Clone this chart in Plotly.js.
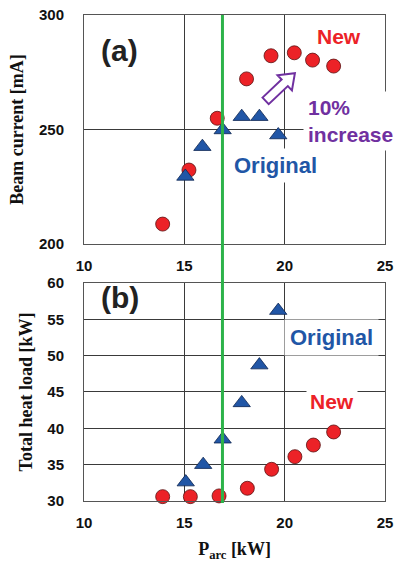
<!DOCTYPE html>
<html><head><meta charset="utf-8">
<script src="https://cdn.plot.ly/plotly-3.0.1.min.js"></script>
<style>html,body{margin:0;padding:0;background:#fff}#chart{width:398px;height:562px}</style>
</head><body><div id="chart"></div>
<script>
// Panel (a): beam current [mA]
const newParcA = [13.92, 15.23, 16.64, 18.10, 19.32, 20.48, 21.39, 22.44];
const newBeam = [208.7, 232.3, 254.9, 272.1, 282.2, 283.5, 280.3, 277.7];
const origParcA = [15.05, 15.90, 16.91, 17.86, 18.74, 19.68];
const origBeam = [229.5, 242.5, 249.8, 255.6, 255.6, 247.6];
// Panel (b): total heat load [kW]
const newParcB = [13.92, 15.30, 16.73, 18.14, 19.35, 20.51, 21.43, 22.44];
const newHeat = [30.6, 30.6, 30.7, 31.75, 34.36, 36.1, 37.7, 39.5];
const origParcB = [15.07, 15.94, 16.91, 17.86, 18.74, 19.68];
const origHeat = [32.6, 35.0, 38.5, 43.5, 48.7, 56.2];
const xTicks = [10, 15, 20, 25];
const refParc = 16.9;

const RED = '#ec2227', BLUE = '#2156a6', PURPLE = '#7030a0', GREEN = '#2db34a';
const circ = {symbol:'circle', size:14, color:RED, line:{color:'#5a1010', width:0.8}};
const tri = {symbol:'triangle-up', size:15, color:BLUE, line:{color:'#0d2550', width:0.8}};

const traces = [
  {x:newParcA, y:newBeam, xaxis:'x', yaxis:'y', mode:'markers', marker:circ, cliponaxis:false},
  {x:origParcA, y:origBeam, xaxis:'x', yaxis:'y', mode:'markers', marker:tri, cliponaxis:false},
  {x:newParcB, y:newHeat, xaxis:'x2', yaxis:'y2', mode:'markers', marker:circ, cliponaxis:false},
  {x:origParcB, y:origHeat, xaxis:'x2', yaxis:'y2', mode:'markers', marker:tri, cliponaxis:false}
];

const tickFont = {family:'"Liberation Sans", Arial, sans-serif', size:15, color:'#111'};
const titleFont = {family:'"Liberation Serif", "Times New Roman", serif', size:18, color:'#111'};
const W = 398, H = 562, M = {l:84, r:13, t:15, b:61, pad:0};
const domA = [0.5288, 1], domB = [0, 0.4486];

function xax(anchor, title){
  const a = {anchor:anchor, range:[10,25], tickvals:xTicks, ticktext:xTicks.map(v=>'<b>'+v+'</b>'),
    showgrid:true, gridcolor:'#3a3a3a', gridwidth:1, zeroline:false,
    showline:true, mirror:true, linecolor:'#555', linewidth:1, ticks:'', ticklabelstandoff:8,
    tickfont:tickFont, fixedrange:true};
  if (title) a.title = title;
  return a;
}
function yax(anchor, dom, range, dtick, title){
  return {anchor:anchor, domain:dom, range:range, dtick:dtick, tick0:range[0],
    showgrid:true, gridcolor:'#3a3a3a', gridwidth:1, zeroline:false,
    showline:true, mirror:true, linecolor:'#555', linewidth:1, ticks:'', ticklabelstandoff:16,
    tickfont:tickFont, tickprefix:'<b>', ticksuffix:'</b>', title:title, fixedrange:true};
}

// hollow block arrow (annotation), geometry in pixels converted to data units of panel (a)
const pw = W - M.l - M.r, ph = (H - M.t - M.b) * (domA[1]-domA[0]);
const pxX = pw/15, pxY = ph/100;
const tail = [19.05, 262.5], tip = [20.51, 274.6];
function arrowPath(){
  const dx = (tip[0]-tail[0])*pxX, dy = (tip[1]-tail[1])*pxY;
  const L = Math.hypot(dx,dy), ux = dx/L, uy = dy/L, nx = -uy, ny = ux;
  const w1 = 4.5, w2 = 10.5, h = 14;
  const pts = [];
  const P = (ox,oy)=>pts.push([tail[0]+ox/pxX, tail[1]+oy/pxY]);
  const nk = L - h;
  P(nx*w1, ny*w1);
  P(ux*nk + nx*w1, uy*nk + ny*w1);
  P(ux*nk + nx*w2, uy*nk + ny*w2);
  P(dx, dy);
  P(ux*nk - nx*w2, uy*nk - ny*w2);
  P(ux*nk - nx*w1, uy*nk - ny*w1);
  P(-nx*w1, -ny*w1);
  return 'M' + pts.map(p=>p[0].toFixed(4)+','+p[1].toFixed(4)).join(' L') + ' Z';
}

const annFont = (c,s)=>({family:'"Liberation Sans", Arial, sans-serif', size:s, color:c});
const layout = {
  width:W, height:H, margin:M, showlegend:false,
  paper_bgcolor:'#fff', plot_bgcolor:'#fff',
  xaxis: xax('y', null),
  yaxis: yax('x', domA, [200,300], 50, {text:'<b>Beam current [mA]</b>', font:titleFont, standoff:10}),
  xaxis2: xax('y2', {text:'<b>P<sub>arc</sub> [kW]</b>', font:titleFont, standoff:12}),
  yaxis2: yax('x2', domB, [30,60], 5, {text:'<b>Total heat load [kW]</b>', font:titleFont, standoff:10}),
  shapes:[
    {type:'line', xref:'x', yref:'paper', x0:refParc, x1:refParc, y0:-0.004, y1:1, line:{color:GREEN, width:3}, layer:'above'},
    {type:'path', xref:'x', yref:'y', path:arrowPath(), fillcolor:'#fff', line:{color:PURPLE, width:2}, layer:'above'}
  ],
  annotations:[
    {xref:'x', yref:'y', x:10.75, y:284.7, xanchor:'left', text:'<b>(a)</b>', showarrow:false, font:annFont('#222',30)},
    {xref:'x2', yref:'y2', x:10.75, y:58.0, xanchor:'left', text:'<b>(b)</b>', showarrow:false, font:annFont('#222',30)},
    {xref:'x', yref:'y', x:22.73, y:290.4, text:'<b>New</b>', showarrow:false, font:annFont(RED,21)},
    {xref:'x', yref:'y', x:20.91, y:253.5, xanchor:'left', align:'left', text:'<b>10%<br>increase</b>', showarrow:false,
      font:annFont(PURPLE,21), bgcolor:'#fff', borderpad:4},
    {xref:'x', yref:'y', x:19.54, y:234.5, text:'<b>Original</b>', showarrow:false, font:annFont(BLUE,22), bgcolor:'#fff', borderpad:4},
    {xref:'x2', yref:'y2', x:22.31, y:52.43, text:'<b>Original</b>', showarrow:false, font:annFont(BLUE,22), bgcolor:'#fff', borderpad:5},
    {xref:'x2', yref:'y2', x:22.38, y:43.67, text:'<b>New</b>', showarrow:false, font:annFont(RED,21), bgcolor:'#fff', borderpad:3}
  ]
};
Plotly.newPlot('chart', traces, layout, {displayModeBar:false, staticPlot:true});
</script></body></html>
